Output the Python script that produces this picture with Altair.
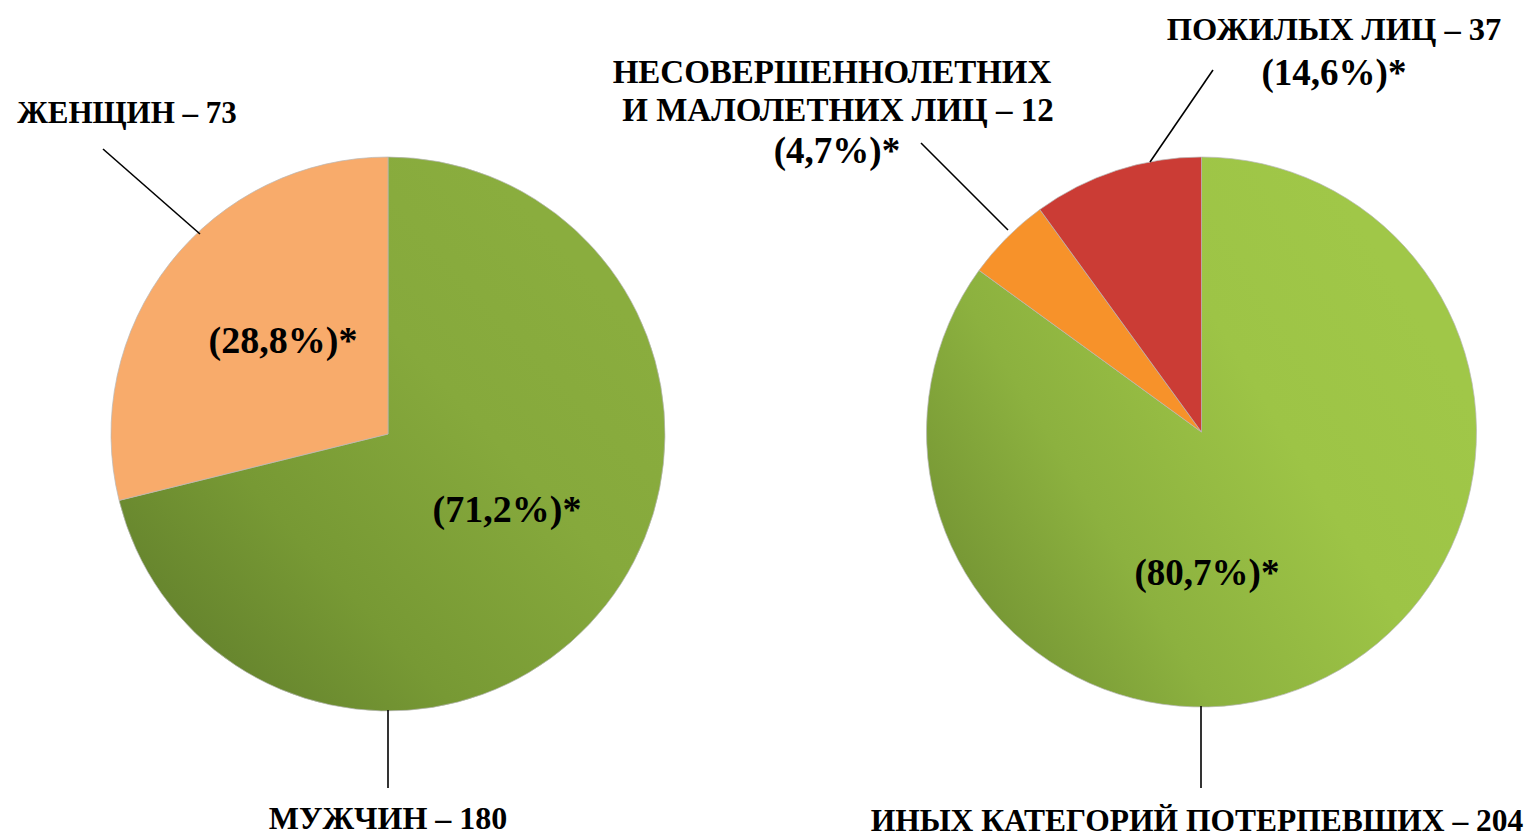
import altair as alt
import pandas as pd

# ---- data ----
left_categories = ["МУЖЧИН", "ЖЕНЩИН"]
left_values = [180, 73]
left_keys = ["green", "peach"]

right_categories = ["ИНЫХ КАТЕГОРИЙ ПОТЕРПЕВШИХ", "НЕСОВЕРШЕННОЛЕТНИХ И МАЛОЛЕТНИХ ЛИЦ", "ПОЖИЛЫХ ЛИЦ"]
right_counts = [204, 12, 37]            # counts printed in the labels
right_slice_values = [204, 12, 24]      # slice sizes as drawn in the picture
right_keys = ["green", "orange", "red"]

# label texts
label_texts = [
    "ЖЕНЩИН – 73", "МУЖЧИН – 180",
    "ПОЖИЛЫХ ЛИЦ – 37", "НЕСОВЕРШЕННОЛЕТНИХ", "И МАЛОЛЕТНИХ ЛИЦ – 12",
    "ИНЫХ КАТЕГОРИЙ ПОТЕРПЕВШИХ – 204",
]
pct_texts = ["(28,8%)*", "(71,2%)*", "(14,6%)*", "(4,7%)*", "(80,7%)*"]

# ---- layout (pixels, chart coordinates) ----
label_pos = [(119, 115), (380, 821), (1326, 32), (824, 75), (830, 113), (1189, 823)]
label_size = [31, 32, 32.5, 33, 33, 31.5]
pct_pos = [(275, 345), (499, 514), (1326, 77), (829, 155), (1199, 577)]
pct_size = [38, 38, 37, 37, 37]
leaders = [
    (95, 141, 192, 226),
    (380, 702, 380, 780),
    (1205, 62, 1142, 154),
    (913, 135, 1000, 222),
    (1193, 698, 1193, 780),
]

FONT = "Liberation Serif"

left_df = pd.DataFrame({"cat": left_categories, "value": left_values,
                        "key": left_keys, "order": range(len(left_values))})
right_df = pd.DataFrame({"cat": right_categories, "value": right_slice_values,
                         "count": right_counts, "key": right_keys,
                         "order": range(len(right_slice_values))})

grad_left = {
    "gradient": "linear", "x1": 0.05, "y1": 0.95, "x2": 0.85, "y2": 0.2,
    "stops": [
        {"offset": 0.0, "color": "#5f7c2b"},
        {"offset": 0.35, "color": "#779934"},
        {"offset": 0.7, "color": "#86a93c"},
        {"offset": 1.0, "color": "#8aad3e"},
    ],
}
grad_right = {
    "gradient": "linear", "x1": 0.0, "y1": 0.85, "x2": 0.9, "y2": 0.3,
    "stops": [
        {"offset": 0.0, "color": "#6f8e31"},
        {"offset": 0.35, "color": "#8cb13f"},
        {"offset": 0.7, "color": "#9dc446"},
        {"offset": 1.0, "color": "#a0c748"},
    ],
}

left_pie = alt.Chart(left_df).mark_arc(
    outerRadius=277, stroke="#b8b8b8", strokeWidth=0.7
).encode(
    theta=alt.Theta("value:Q", stack=True),
    order=alt.Order("order:Q"),
    fill={"condition": [{"test": "datum.key === 'green'", "value": grad_left}],
          "value": "#f8ab6b"},
    x=alt.value(380), y=alt.value(426),
)

right_pie = alt.Chart(right_df).mark_arc(
    outerRadius=275, stroke="#b8b8b8", strokeWidth=0.7
).encode(
    theta=alt.Theta("value:Q", stack=True),
    order=alt.Order("order:Q"),
    fill={"condition": [{"test": "datum.key === 'green'", "value": grad_right},
                        {"test": "datum.key === 'orange'", "value": "#f7922a"}],
          "value": "#cb3c35"},
    x=alt.value(1193.5), y=alt.value(424),
)

lead_df = pd.DataFrame(leaders, columns=["x", "y", "x2", "y2"])
rules = alt.Chart(lead_df).mark_rule(color="black", strokeWidth=1.6).encode(
    x=alt.X("x:Q", scale=None, axis=None),
    y=alt.Y("y:Q", scale=None, axis=None),
    x2="x2:Q", y2="y2:Q",
)

lab_df = pd.DataFrame({"text": label_texts, "size": label_size,
                       "x": [p[0] for p in label_pos], "y": [p[1] for p in label_pos]})
labels = alt.Chart(lab_df).mark_text(
    font=FONT, fontWeight="bold", color="black",
    align="center", baseline="alphabetic"
).encode(
    x=alt.X("x:Q", scale=None, axis=None),
    y=alt.Y("y:Q", scale=None, axis=None),
    size=alt.Size("size:Q", scale=None, legend=None),
    text="text:N",
)

pct_df = pd.DataFrame({"text": pct_texts, "size": pct_size,
                       "x": [p[0] for p in pct_pos], "y": [p[1] for p in pct_pos]})
pcts = alt.Chart(pct_df).mark_text(
    font=FONT, fontWeight="bold", color="black",
    align="center", baseline="alphabetic"
).encode(
    x=alt.X("x:Q", scale=None, axis=None),
    y=alt.Y("y:Q", scale=None, axis=None),
    size=alt.Size("size:Q", scale=None, legend=None),
    text="text:N",
)

chart = alt.layer(left_pie, right_pie, rules, labels, pcts).resolve_scale(
    theta="independent", size="independent"
).properties(
    width=1521, height=829, padding=0, autosize="none", background="white"
).configure_view(stroke=None)

chart.save("out.html", embed_options={"renderer": "svg", "actions": False})
